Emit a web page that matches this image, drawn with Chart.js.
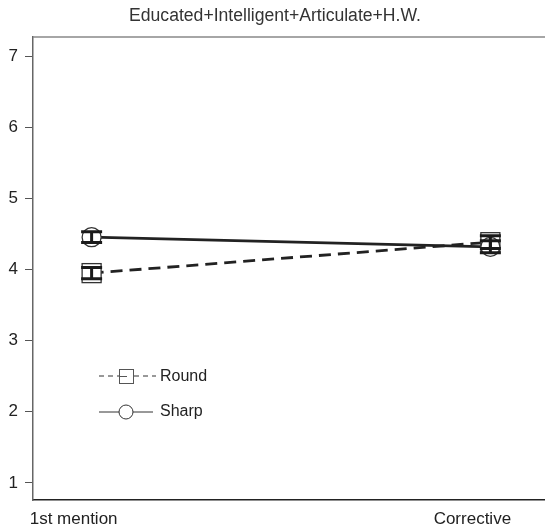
<!DOCTYPE html>
<html><head><meta charset="utf-8">
<script src="https://cdn.jsdelivr.net/npm/chart.js@4"></script>
<style>html,body{margin:0;padding:0;background:#fff}#w{width:545px;height:532px}</style>
</head><body><div id="w"><canvas id="c" width="545" height="532"></canvas></div>
<script>
const titleText = "Educated+Intelligent+Articulate+H.W.";
const categories = ["1st mention", "Corrective"];
const yTicks = [1, 2, 3, 4, 5, 6, 7];
const seriesNames = ["Round", "Sharp"];
const roundMeans = [3.95, 4.385];
const roundErr = [0.08, 0.09];
const sharpMeans = [4.455, 4.32];
const sharpErr = [0.075, 0.085];

const FONT = "'Liberation Sans', Arial, sans-serif";

const errPlugin = {
  id: 'err',
  afterDatasetsDraw(chart) {
    const ctx = chart.ctx, xs = chart.scales.x, ys = chart.scales.y;
    ctx.save();
    ctx.setLineDash([]);
    // markers
    ctx.strokeStyle = '#333'; ctx.lineWidth = 1.3; ctx.fillStyle = '#fff';
    roundMeans.forEach((v, i) => {
      const x = xs.getPixelForValue(i + 1), y = ys.getPixelForValue(v);
      ctx.fillRect(x - 9.5, y - 9.5, 19, 19);
      ctx.strokeRect(x - 9.5, y - 9.5, 19, 19);
    });
    sharpMeans.forEach((v, i) => {
      const x = xs.getPixelForValue(i + 1), y = ys.getPixelForValue(v);
      ctx.beginPath(); ctx.arc(x, y, 9.5, 0, Math.PI * 2); ctx.fill(); ctx.stroke();
    });
    // error bars
    const sets = [[roundMeans, roundErr], [sharpMeans, sharpErr]];
    ctx.strokeStyle = '#1a1a1a';
    sets.forEach(([m, e]) => {
      m.forEach((v, i) => {
        const x = xs.getPixelForValue(i + 1);
        const y1 = ys.getPixelForValue(v - e[i]);
        const y2 = ys.getPixelForValue(v + e[i]);
        ctx.lineWidth = 3;
        ctx.beginPath(); ctx.moveTo(x, y1); ctx.lineTo(x, y2); ctx.stroke();
        ctx.beginPath(); ctx.moveTo(x - 10.5, y1); ctx.lineTo(x + 10.5, y1);
        ctx.moveTo(x - 10.5, y2); ctx.lineTo(x + 10.5, y2); ctx.stroke();
      });
    });
    ctx.restore();
  },
  afterDraw(chart) {
    const ctx = chart.ctx, a = chart.chartArea;
    ctx.save();
    // top border
    ctx.strokeStyle = '#888'; ctx.lineWidth = 1.5;
    ctx.beginPath(); ctx.moveTo(a.left, a.top); ctx.lineTo(545, a.top); ctx.stroke();
    // title
    ctx.fillStyle = '#333'; ctx.font = '17.6px ' + FONT;
    ctx.textAlign = 'center'; ctx.textBaseline = 'middle';
    ctx.fillText(titleText, 275, 16);
    // legend
    ctx.strokeStyle = '#333'; ctx.lineWidth = 1;
    ctx.setLineDash([5, 4]);
    ctx.beginPath(); ctx.moveTo(99, 376); ctx.lineTo(119, 376);
    ctx.moveTo(134, 376); ctx.lineTo(156, 376); ctx.stroke();
    ctx.setLineDash([]);
    ctx.strokeStyle = '#555';
    ctx.strokeRect(119.5, 369.5, 14, 14);
    ctx.beginPath(); ctx.moveTo(119, 376.5); ctx.lineTo(127, 376.5); ctx.stroke();
    ctx.strokeStyle = '#333';
    ctx.beginPath(); ctx.moveTo(99, 412); ctx.lineTo(153, 412); ctx.stroke();
    ctx.fillStyle = '#fff';
    ctx.beginPath(); ctx.arc(126, 412, 7, 0, Math.PI * 2); ctx.fill(); ctx.stroke();
    ctx.fillStyle = '#222'; ctx.font = '16px ' + FONT;
    ctx.textAlign = 'left';
    ctx.fillText(seriesNames[0], 160, 377);
    ctx.fillText(seriesNames[1], 160, 412);
    ctx.restore();
  }
};

new Chart(document.getElementById('c'), {
  type: 'line',
  data: {
    datasets: [
      {
        label: seriesNames[0],
        data: roundMeans.map((v, i) => ({x: i + 1, y: v})),
        borderColor: '#222', borderWidth: 2.8, borderDash: [12, 7],
        pointRadius: 0
      },
      {
        label: seriesNames[1],
        data: sharpMeans.map((v, i) => ({x: i + 1, y: v})),
        borderColor: '#222', borderWidth: 2.8,
        pointRadius: 0
      }
    ]
  },
  options: {
    responsive: false, animation: false,
    layout: {padding: {top: 37, right: 0, left: 0, bottom: 0}},
    plugins: {legend: {display: false}, title: {display: false}, tooltip: {enabled: false}},
    scales: {
      x: {
        type: 'linear', min: 0.853, max: 2.137,
        afterBuildTicks: s => { s.ticks = [{value: 1}, {value: 2}]; },
        afterFit: s => { s.height = 32; s.paddingLeft = 0; s.paddingRight = 0; },
        ticks: {
          callback: (v) => categories[v - 1] || '',
          color: '#222', font: {size: 17, family: FONT},
          labelOffset: -18, padding: 9, maxRotation: 0, autoSkip: false
        },
        grid: {display: false, drawTicks: false},
        border: {display: true, color: '#222', width: 1.5}
      },
      y: {
        type: 'linear', min: 0.76, max: 7.27,
        afterBuildTicks: s => { s.ticks = yTicks.map(v => ({value: v})); },
        afterFit: s => { s.width = 33; s.paddingTop = 0; s.paddingBottom = 0; },
        ticks: {color: '#222', font: {size: 17, family: FONT}, padding: 7},
        grid: {drawOnChartArea: false, tickLength: 8, color: '#555', tickWidth: 1},
        border: {display: true, color: '#666', width: 1.5}
      }
    }
  },
  plugins: [errPlugin]
});
</script>
</body></html>
